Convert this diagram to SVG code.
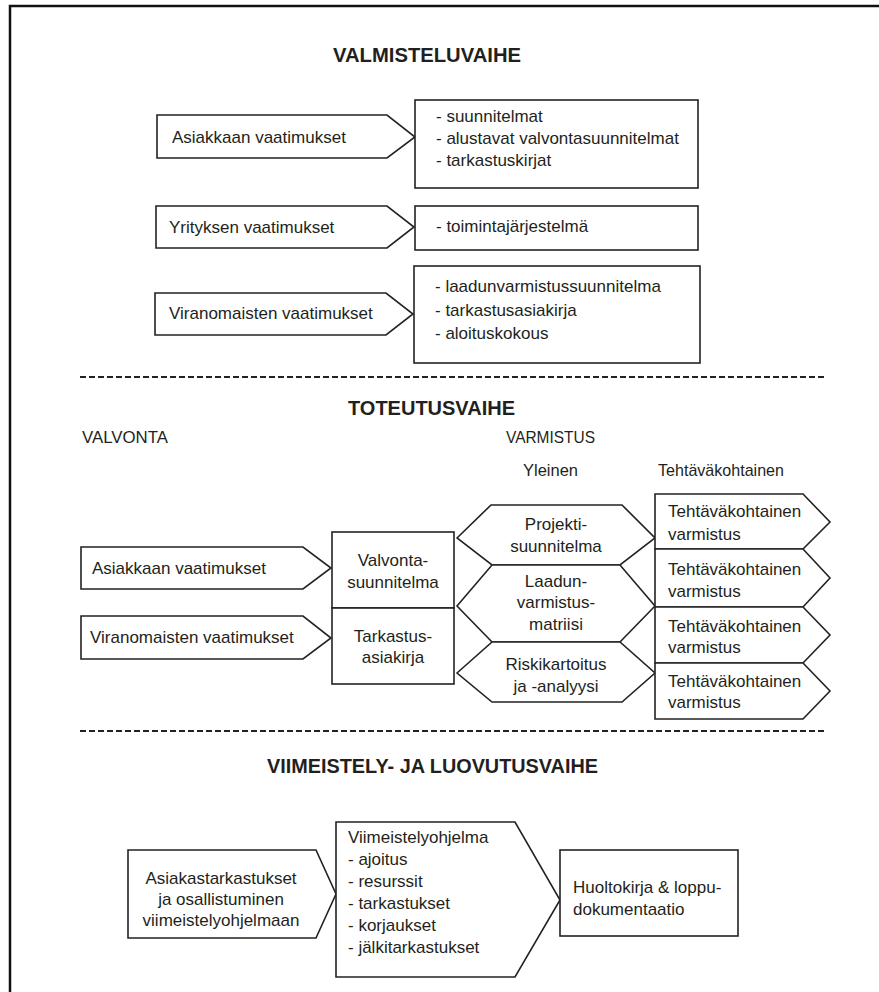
<svg xmlns="http://www.w3.org/2000/svg" width="879" height="992" viewBox="0 0 879 992">
<style>
.sh{fill:#fff;stroke:#222;stroke-width:1.6;stroke-linejoin:miter}
.t{font-family:"Liberation Sans",Arial,sans-serif;font-size:17px;fill:#231f20}
.c{text-anchor:middle}
.h{font-family:"Liberation Sans",Arial,sans-serif;font-size:20px;font-weight:bold;fill:#231f20}
.hd{font-family:"Liberation Sans",Arial,sans-serif;font-size:17px;fill:#231f20}
.dash{stroke:#222;stroke-width:2;stroke-dasharray:6 3;fill:none}
.frame{stroke:#111;stroke-width:2.5;fill:none}
</style>
<rect width="879" height="992" fill="#fff"/>
<path class="frame" d="M10,992 V6 H879"/>

<g id="titles">
<text class="h" x="333" y="62" textLength="188" lengthAdjust="spacingAndGlyphs">VALMISTELUVAIHE</text>
<text class="h" x="348" y="415" textLength="167" lengthAdjust="spacingAndGlyphs">TOTEUTUSVAIHE</text>
<text class="h" x="267" y="773" textLength="331" lengthAdjust="spacingAndGlyphs">VIIMEISTELY- JA LUOVUTUSVAIHE</text>
<text class="hd" x="82" y="443" textLength="86" lengthAdjust="spacingAndGlyphs">VALVONTA</text>
<text class="hd" x="506" y="443" textLength="89" lengthAdjust="spacingAndGlyphs">VARMISTUS</text>
<text class="hd" x="523" y="476" textLength="55" lengthAdjust="spacingAndGlyphs">Yleinen</text>
<text class="hd" x="658" y="476" textLength="126" lengthAdjust="spacingAndGlyphs">Tehtäväkohtainen</text>
</g>

<g id="connectors">
<line class="dash" x1="80" y1="377" x2="824" y2="377"/>
<line class="dash" x1="80" y1="731" x2="824" y2="731"/>
</g>

<g id="v-asiakas">
<polygon class="sh" points="157,115 387,115 415,137 387,158 157,158"/>
<text class="t" x="172" y="143">Asiakkaan vaatimukset</text>
</g>
<g id="v-asiakas-out">
<rect class="sh" x="415" y="100" width="283" height="88"/>
<text class="t" x="436" y="122">- suunnitelmat</text>
<text class="t" x="436" y="144">- alustavat valvontasuunnitelmat</text>
<text class="t" x="436" y="166">- tarkastuskirjat</text>
</g>
<g id="v-yritys">
<polygon class="sh" points="156,206 387,206 414,227 387,248 156,248"/>
<text class="t" x="169" y="233">Yrityksen vaatimukset</text>
</g>
<g id="v-yritys-out">
<rect class="sh" x="415" y="206" width="283" height="44"/>
<text class="t" x="436" y="232">- toimintajärjestelmä</text>
</g>
<g id="v-viranom">
<polygon class="sh" points="155,293 386,293 413,314 386,335 155,335"/>
<text class="t" x="169" y="319">Viranomaisten vaatimukset</text>
</g>
<g id="v-viranom-out">
<rect class="sh" x="414" y="266" width="286" height="97"/>
<text class="t" x="435" y="292">- laadunvarmistussuunnitelma</text>
<text class="t" x="435" y="316">- tarkastusasiakirja</text>
<text class="t" x="435" y="339">- aloituskokous</text>
</g>

<g id="t-asiakas">
<polygon class="sh" points="81,547 303,547 331,568 303,589 81,589"/>
<text class="t" x="92" y="574">Asiakkaan vaatimukset</text>
</g>
<g id="t-viranom">
<polygon class="sh" points="81,616 303,616 331,638 303,659 81,659"/>
<text class="t" x="90" y="643">Viranomaisten vaatimukset</text>
</g>
<g id="t-valvonta">
<rect class="sh" x="332" y="532" width="122" height="76"/>
<text class="t c" x="393" y="566">Valvonta-</text>
<text class="t c" x="393" y="588">suunnitelma</text>
</g>
<g id="t-tarkastus">
<rect class="sh" x="332" y="608" width="122" height="76"/>
<text class="t c" x="393" y="642">Tarkastus-</text>
<text class="t c" x="393" y="663">asiakirja</text>
</g>

<g id="h-projekti">
<polygon class="sh" points="457,538 491,505 622,505 655,538 620,565 492,565"/>
<text class="t c" x="556" y="530">Projekti-</text>
<text class="t c" x="556" y="552">suunnitelma</text>
</g>
<g id="h-laatu">
<polygon class="sh" points="457,606 492,565 620,565 655,606 620,642 492,642"/>
<text class="t c" x="556" y="587">Laadun-</text>
<text class="t c" x="556" y="608">varmistus-</text>
<text class="t c" x="556" y="630">matriisi</text>
</g>
<g id="h-riski">
<polygon class="sh" points="457,673 492,642 620,642 655,673 622,702 492,702"/>
<text class="t c" x="556" y="670">Riskikartoitus</text>
<text class="t c" x="556" y="692">ja -analyysi</text>
</g>

<g id="r-1">
<polygon class="sh" points="655,494 803,494 830,522 803,549 655,549"/>
<text class="t" x="668" y="517">Tehtäväkohtainen</text>
<text class="t" x="668" y="540">varmistus</text>
</g>
<g id="r-2">
<polygon class="sh" points="655,549 803,549 830,578 803,607 655,607"/>
<text class="t" x="668" y="575">Tehtäväkohtainen</text>
<text class="t" x="668" y="597">varmistus</text>
</g>
<g id="r-3">
<polygon class="sh" points="655,607 803,607 830,635 803,663 655,663"/>
<text class="t" x="668" y="632">Tehtäväkohtainen</text>
<text class="t" x="668" y="653">varmistus</text>
</g>
<g id="r-4">
<polygon class="sh" points="655,663 803,663 830,691 803,719 655,719"/>
<text class="t" x="668" y="687">Tehtäväkohtainen</text>
<text class="t" x="668" y="708">varmistus</text>
</g>

<g id="l-asiakas">
<polygon class="sh" points="128,850 316,850 336,894 316,938 128,938"/>
<text class="t c" x="221" y="884">Asiakastarkastukset</text>
<text class="t c" x="221" y="905">ja osallistuminen</text>
<text class="t c" x="221" y="926">viimeistelyohjelmaan</text>
</g>
<g id="l-ohjelma">
<polygon class="sh" points="336,822 515,822 560,900 515,977 336,977"/>
<text class="t" x="348" y="843">Viimeistelyohjelma</text>
<text class="t" x="348" y="865">- ajoitus</text>
<text class="t" x="348" y="887">- resurssit</text>
<text class="t" x="348" y="909">- tarkastukset</text>
<text class="t" x="348" y="931">- korjaukset</text>
<text class="t" x="348" y="953">- jälkitarkastukset</text>
</g>
<g id="l-huolto">
<rect class="sh" x="560" y="850" width="178" height="86"/>
<text class="t" x="573" y="893">Huoltokirja &amp; loppu-</text>
<text class="t" x="573" y="915">dokumentaatio</text>
</g>
</svg>
